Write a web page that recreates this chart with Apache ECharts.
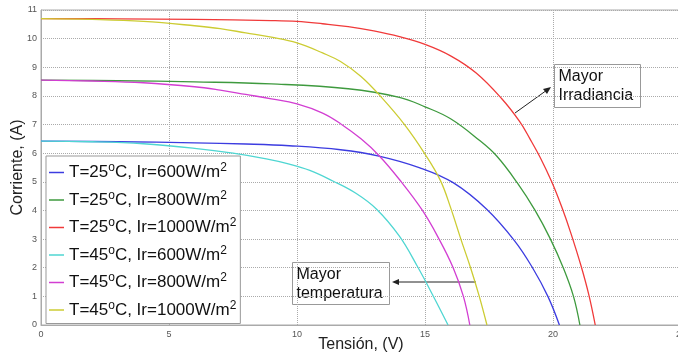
<!DOCTYPE html>
<html>
<head>
<meta charset="utf-8">
<script src="https://cdn.jsdelivr.net/npm/echarts@6/dist/echarts.min.js"></script>
<style>
  html, body { margin: 0; padding: 0; background: #fff; }
  #chart { width: 678px; height: 356px; }
</style>
</head>
<body>
<div id="chart"></div>
<script>
// curvas I-V: [tension (V), corriente (A)]
const t25_600 = [[0, 6.42], [3, 6.4], [6, 6.36], [8, 6.32], [9.7, 6.26], [11.7, 6.12], [13.2, 5.9], [14.8, 5.49], [16.1, 4.97], [17.4, 4.05], [18.5, 2.94], [19.2, 2.0], [19.8, 1.0], [20.25, 0]]
const t25_800 = [[0, 8.55], [3, 8.53], [6, 8.49], [9, 8.42], [12, 8.25], [14, 7.95], [15, 7.62], [16, 7.2], [17.15, 6.43], [17.8, 5.9], [18.6, 4.97], [19.3, 4.0], [19.9, 3.0], [20.4, 2.0], [20.8, 1.0], [21.05, 0]]
const t25_1000 = [[0, 10.7], [3, 10.69], [6, 10.67], [9, 10.63], [10, 10.6], [11, 10.52], [12, 10.42], [13, 10.27], [14, 10.07], [15, 9.8], [16, 9.4], [17, 8.8], [18, 7.9], [18.7, 7.1], [19.1, 6.5], [19.5, 5.85], [19.95, 5.0], [20.35, 4.1], [20.7, 3.2], [21.1, 2.05], [21.4, 1.05], [21.65, 0]]
const t45_600 = [[0, 6.42], [2, 6.4], [4, 6.33], [6, 6.17], [7.5, 6.0], [8.8, 5.8], [9.7, 5.62], [10.5, 5.4], [11.4, 5.03], [12.3, 4.6], [13.1, 4.05], [14.0, 3.1], [14.7, 2.05], [15.3, 1.05], [15.9, 0]]
const t45_800 = [[0, 8.55], [2, 8.52], [4, 8.46], [6, 8.32], [7, 8.2], [8, 8.05], [9, 7.9], [10, 7.72], [11, 7.4], [11.7, 7.03], [12.5, 6.5], [13.2, 5.92], [14.0, 5.08], [14.9, 4.0], [15.55, 3.0], [16.1, 2.0], [16.5, 1.0], [16.75, 0]]
const t45_1000 = [[0, 10.7], [2, 10.67], [4, 10.6], [6, 10.45], [7, 10.35], [8, 10.2], [9, 10.05], [10, 9.85], [11, 9.5], [11.7, 9.2], [12.5, 8.68], [13.3, 7.95], [14.2, 7.0], [15, 5.97], [15.6, 5.05], [16.0, 4.1], [16.4, 3.0], [16.78, 2.0], [17.12, 1.0], [17.42, 0]]

const nombres = ['25|600', '25|800', '25|1000', '45|600', '45|800', '45|1000']
const curvas = [t25_600, t25_800, t25_1000, t45_600, t45_800, t45_1000]
const colores = ['#3c3ce0', '#3e9a3e', '#f03a3a', '#4fd6d2', '#d23ed2', '#cccc33']

const font = 'Liberation Sans, Arial, sans-serif'

const chart = echarts.init(document.getElementById('chart'))

const option = {
    animation: false,
    backgroundColor: '#fff',
    grid: {
        left: 41,
        top: 10,
        right: -3,
        bottom: 31,
        show: true,
        borderColor: '#aaa',
        borderWidth: 1,
        outerBoundsMode: 'none'
    },
    xAxis: {
        type: 'value',
        min: 0,
        max: 25,
        interval: 5,
        name: 'Tensión, (V)',
        nameLocation: 'middle',
        nameGap: 12,
        nameMoveOverlap: false,
        nameTextStyle: { fontSize: 16, color: '#222', fontFamily: font },
        axisLine: { lineStyle: { color: '#aaa' } },
        axisTick: { show: false },
        axisLabel: { fontSize: 9, color: '#555', margin: 5, fontFamily: font },
        splitLine: { lineStyle: { color: '#aaa', type: 'dotted' } }
    },
    yAxis: {
        type: 'value',
        min: 0,
        max: 11,
        interval: 1,
        name: 'Corriente, (A)',
        nameLocation: 'middle',
        nameGap: 15,
        nameMoveOverlap: false,
        nameTextStyle: { fontSize: 16, color: '#222', fontFamily: font },
        axisLine: { show: true, lineStyle: { color: '#aaa' } },
        axisTick: { show: false },
        axisLabel: { fontSize: 9, color: '#555', margin: 4, fontFamily: font },
        splitLine: { lineStyle: { color: '#aaa', type: 'dotted' } }
    },
    legend: {
        orient: 'vertical',
        left: 46,
        top: 156,
        padding: [6, 4, 5, 3],
        itemGap: 8.5,
        itemWidth: 15,
        itemHeight: 1.5,
        icon: 'rect',
        backgroundColor: '#fff',
        borderColor: '#999',
        borderWidth: 1,
        borderRadius: 0,
        data: nombres,
        formatter: function (name) {
            const p = name.split('|')
            return '{a|T=' + p[0] + '}{s|o}{a|C, Ir=' + p[1] + 'W/m}{s|2}'
        },
        textStyle: {
            rich: {
                a: { fontSize: 17, color: '#111', fontFamily: font, height: 20 },
                s: { fontSize: 12, color: '#111', fontFamily: font, padding: [0, 0, 9, 0] }
            }
        }
    },
    graphic: [
        {
            type: 'group',
            left: 554,
            top: 64,
            children: [
                { type: 'rect', shape: { x: 0, y: 0, width: 86, height: 43 }, style: { fill: '#fff', stroke: '#999', lineWidth: 1 } },
                { type: 'text', x: 4, y: 3, style: { text: 'Mayor\nIrradiancia', fontSize: 16, lineHeight: 19, fill: '#111', fontFamily: font } }
            ]
        },
        {
            type: 'group',
            left: 292,
            top: 262,
            children: [
                { type: 'rect', shape: { x: 0, y: 0, width: 97, height: 42 }, style: { fill: '#fff', stroke: '#999', lineWidth: 1 } },
                { type: 'text', x: 4, y: 3, style: { text: 'Mayor\ntemperatura', fontSize: 16, lineHeight: 19, fill: '#111', fontFamily: font } }
            ]
        },
        { type: 'line', shape: { x1: 515, y1: 113, x2: 547, y2: 90 }, style: { stroke: '#222', lineWidth: 1 } },
        { type: 'polygon', shape: { points: [[551, 87], [543, 89], [547, 94]] }, style: { fill: '#222' } },
        { type: 'line', shape: { x1: 476, y1: 282, x2: 397, y2: 282 }, style: { stroke: '#222', lineWidth: 1 } },
        { type: 'polygon', shape: { points: [[392, 282], [399, 279], [399, 285]] }, style: { fill: '#222' } }
    ],
    series: []
}

curvas.forEach((d, i) => {
    option.series.push({
        name: nombres[i],
        type: 'line',
        data: d,
        smooth: 0.4,
        showSymbol: false,
        lineStyle: { width: 1.3, color: colores[i] },
        itemStyle: { color: colores[i] },
        z: 2
    })
})

chart.setOption(option)
</script>
</body>
</html>
